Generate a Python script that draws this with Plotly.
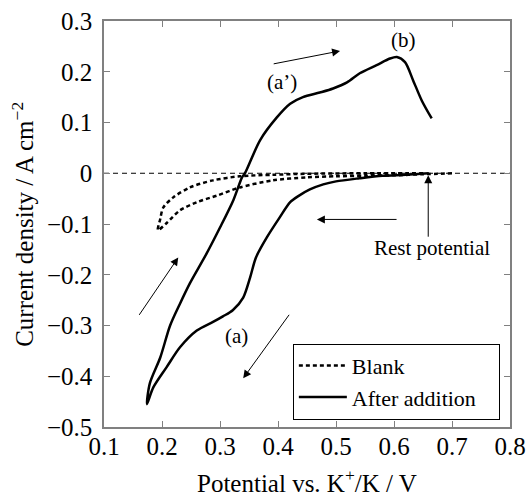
import plotly.graph_objects as go

# Blank (dashed) CV loop
blank_x = [0.70, 0.65, 0.60, 0.55, 0.50, 0.45, 0.391, 0.334, 0.295, 0.260, 0.231, 0.209, 0.193,
           0.197, 0.202, 0.219, 0.248, 0.288, 0.334, 0.391, 0.45, 0.55, 0.65]
blank_y = [0.0, -0.002, -0.004, -0.005, -0.006, -0.008, -0.014, -0.028, -0.044, -0.057, -0.073, -0.097, -0.112,
           -0.09, -0.068, -0.048, -0.028, -0.014, -0.006, -0.003, -0.001, 0.0, 0.0]

# After addition (solid) CV loop
after_x = [0.66, 0.62, 0.58, 0.54, 0.50, 0.478, 0.455, 0.435, 0.421, 0.403, 0.381, 0.362, 0.352, 0.340,
           0.322, 0.305, 0.288, 0.260, 0.231, 0.208, 0.185, 0.174,
           0.179, 0.197, 0.214, 0.231, 0.248, 0.277, 0.300, 0.323, 0.338, 0.343, 0.369, 0.398, 0.421,
           0.443, 0.472, 0.495, 0.519, 0.541, 0.570, 0.593, 0.605, 0.619, 0.633, 0.648, 0.665]
after_y = [0.0, -0.003, -0.005, -0.01, -0.016, -0.022, -0.032, -0.045, -0.057, -0.087, -0.126, -0.166, -0.205, -0.245,
           -0.270, -0.282, -0.293, -0.310, -0.343, -0.382, -0.422, -0.455,
           -0.414, -0.363, -0.300, -0.257, -0.217, -0.158, -0.107, -0.053, -0.008, 0.0, 0.065, 0.110, 0.137,
           0.150, 0.159, 0.167, 0.179, 0.197, 0.213, 0.226, 0.229, 0.219, 0.183, 0.143, 0.108]

x_ticks = [0.1, 0.2, 0.3, 0.4, 0.5, 0.6, 0.7, 0.8]
y_ticks = [0.3, 0.2, 0.1, 0, -0.1, -0.2, -0.3, -0.4, -0.5]

# arrows: (tail_x, tail_y, head_x, head_y)
arrows = [
    (0.390, 0.215, 0.507, 0.241),
    (0.159, -0.282, 0.228, -0.166),
    (0.421, -0.276, 0.340, -0.404),
    (0.607, -0.091, 0.467, -0.091),
    (0.659, -0.128, 0.659, -0.004),
]
labels = [("(b)", 0.616, 0.262), ("(a’)", 0.407, 0.179), ("(a)", 0.328, -0.321),
          ("Rest potential", 0.666, -0.148)]

FONT = "'Liberation Serif', 'Times New Roman', Times, serif"

fig = go.Figure()
fig.add_trace(go.Scatter(x=blank_x, y=blank_y, mode="lines", name="Blank",
                         line=dict(color="black", width=2.5, dash="4px,3px", shape="spline", smoothing=0.8)))
fig.add_trace(go.Scatter(x=after_x, y=after_y, mode="lines", name="After addition",
                         line=dict(color="black", width=2.5, shape="spline", smoothing=0.8)))

fig.add_shape(type="line", xref="paper", yref="y", x0=0, x1=1, y0=0, y1=0,
              line=dict(color="black", width=1, dash="5px,4px"), layer="below")

annotations = []
for tx, ty, hx, hy in arrows:
    annotations.append(dict(x=hx, y=hy, ax=tx, ay=ty, xref="x", yref="y", axref="x", ayref="y",
                            text="", showarrow=True, arrowhead=2, arrowsize=1.6, arrowwidth=1,
                            arrowcolor="black"))
for t, x, y in labels:
    annotations.append(dict(x=x, y=y, xref="x", yref="y", text=t, showarrow=False,
                            xanchor="center", yanchor="middle",
                            font=dict(family=FONT, size=21, color="black")))
annotations.append(dict(x=0.5, y=-0.134, xref="paper", yref="paper",
                        xanchor="center", yanchor="middle",
                        text="Potential vs. K<sup>+</sup>/K / V", showarrow=False,
                        font=dict(family=FONT, size=25, color="black")))
annotations.append(dict(x=-0.2, y=0.5, xref="paper", yref="paper", textangle=-90,
                        xanchor="center", yanchor="middle",
                        text="Current density / A cm<sup>−2</sup>", showarrow=False,
                        font=dict(family=FONT, size=25, color="black")))

fig.update_layout(
    width=529, height=495,
    margin=dict(l=104, r=19, t=21, b=68, autoexpand=False),
    paper_bgcolor="white", plot_bgcolor="white",
    font=dict(family=FONT, size=24, color="black"),
    showlegend=True,
    legend=dict(x=0.975, y=0.018, xanchor="right", yanchor="bottom", orientation="h",
                bgcolor="white", bordercolor="black", borderwidth=1,
                font=dict(family=FONT, size=22, color="black"),
                itemwidth=48, entrywidth=142, entrywidthmode="pixels", tracegroupgap=0),
    annotations=annotations,
)
fig.update_xaxes(range=[0.1, 0.8], tickvals=x_ticks, ticktext=[str(v) for v in x_ticks],
                 showgrid=False, zeroline=False, showline=True, linecolor="#808080", linewidth=1.5,
                 mirror="ticks", ticks="inside", ticklen=6, tickcolor="#808080", automargin=False,
                 tickfont=dict(family=FONT, size=25, color="black"), ticklabelstandoff=-4)
fig.update_yaxes(range=[-0.5, 0.3], tickvals=y_ticks,
                 ticktext=[("−" + str(abs(v))) if v < 0 else str(v) for v in y_ticks],
                 showgrid=False, zeroline=False, showline=True, linecolor="#808080", linewidth=1.5,
                 mirror="ticks", ticks="inside", ticklen=6, tickcolor="#808080", automargin=False,
                 tickfont=dict(family=FONT, size=25, color="black"), ticklabelstandoff=5)

fig.write_html("out.html", config={"displayModeBar": False},
               post_script="document.body.style.margin='0';")
